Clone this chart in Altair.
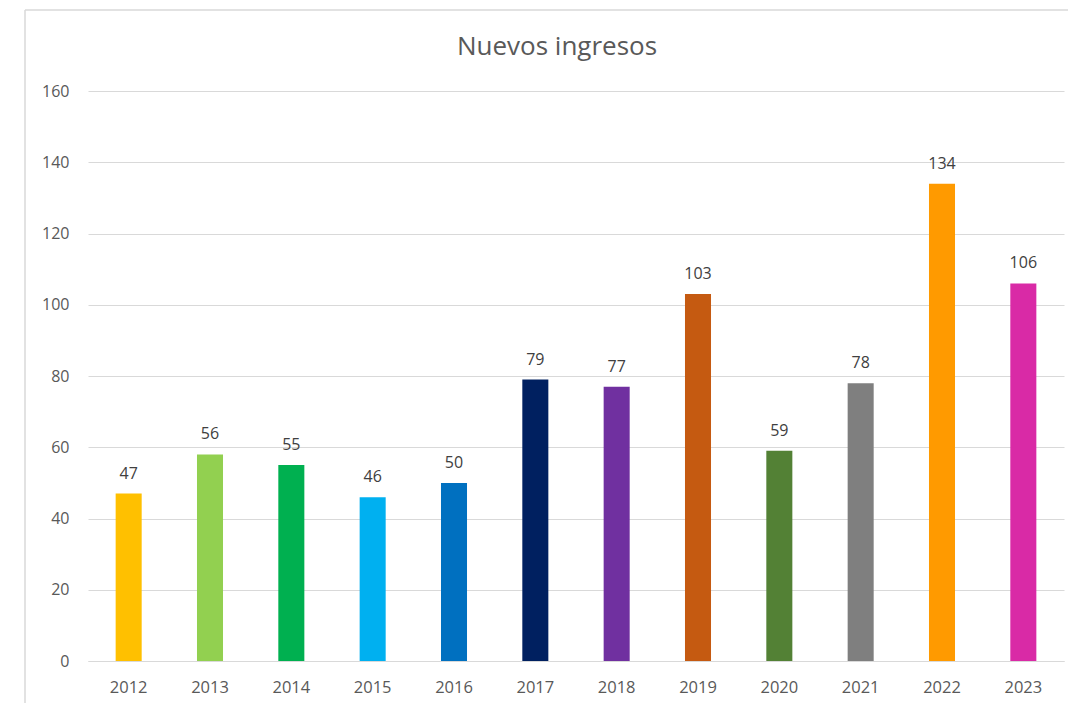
import altair as alt
import pandas as pd

years = ["2012", "2013", "2014", "2015", "2016", "2017", "2018", "2019", "2020", "2021", "2022", "2023"]
bar_values = [47, 58, 55, 46, 50, 79, 77, 103, 59, 78, 134, 106]
label_values = ["47", "56", "55", "46", "50", "79", "77", "103", "59", "78", "134", "106"]
colors = ["#FFC000", "#92D050", "#00B050", "#00B0F0", "#0070C0", "#002060",
          "#7030A0", "#C55A11", "#538135", "#7F7F7F", "#FF9A00", "#D92AA6"]
y_ticks = [0, 20, 40, 60, 80, 100, 120, 140, 160]
title_text = "Nuevos ingresos"

df = pd.DataFrame({"year": years, "value": bar_values, "label": label_values, "color": colors})

FONT = "Open Sans"
W, H = 976, 570

x = alt.X("year:N", sort=years, title=None,
          scale=alt.Scale(paddingInner=0.68, paddingOuter=0.34),
          axis=alt.Axis(labelAngle=0, labelFontSize=16.5, labelColor="#595959", labelFont=FONT,
                        ticks=False, domainColor="#D9D9D9", labelPadding=18, grid=False))
y = alt.Y("value:Q", title=None,
          scale=alt.Scale(domain=[0, 160], nice=False),
          axis=alt.Axis(values=y_ticks, labelFontSize=16, labelColor="#595959", labelFont=FONT,
                        ticks=False, domain=False, gridColor="#D9D9D9", labelPadding=19))

bars = alt.Chart(df).mark_bar().encode(x=x, y=y, color=alt.Color("color:N", scale=None, legend=None))

labels = alt.Chart(df).mark_text(baseline="bottom", dy=-12, fontSize=16, color="#404040", font=FONT).encode(
    x=alt.X("year:N", sort=years), y="value:Q", text="label:N")

title = alt.Chart(pd.DataFrame({"t": [title_text]})).mark_text(
    fontSize=26, color="#595959", font=FONT, baseline="middle", align="center").encode(
    x=alt.value(469), y=alt.value(-44), text="t:N")

border_top = alt.Chart(pd.DataFrame({"a": [0]})).mark_rule(color="#D9D9D9", strokeWidth=1.5).encode(
    x=alt.value(-63), x2=alt.value(990), y=alt.value(-81))
border_left = alt.Chart(pd.DataFrame({"a": [0]})).mark_rule(color="#D9D9D9", strokeWidth=1.5).encode(
    x=alt.value(-63), y=alt.value(-81), y2=alt.value(640))

chart = alt.layer(border_top, border_left, bars, labels, title).properties(
    width=W, height=H,
    autosize=alt.AutoSizeParams(type="none"),
    padding={"left": 80, "top": 83, "right": 4, "bottom": 42},
    background="white",
).configure_view(stroke=None)

chart.save("out.html", embed_options={"renderer": "svg", "actions": False})
